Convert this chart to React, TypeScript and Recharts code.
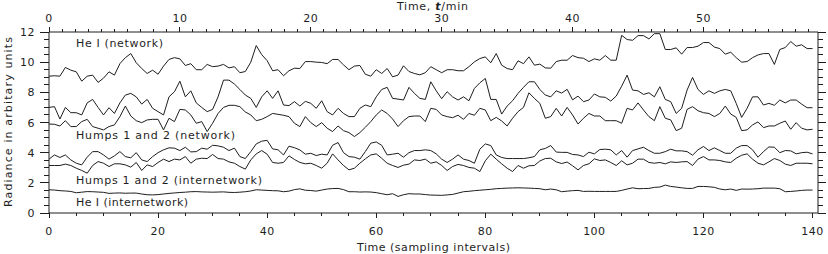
import React from 'react';
import { LineChart, Line, XAxis, YAxis } from 'recharts';

// sample index 0..140 (one sample = 25 s, so 2.4 samples per minute)
const samples = Array.from({ length: 141 }, (_, i) => i);
const SAMPLES_PER_MIN = 2.4;

const heNetwork = [
  9.07, 9.1, 9.07, 9.65, 9.47, 9.36, 8.74, 9.07, 9.14, 8.66, 8.94, 9.36, 9.14, 9.9, 10.3, 10.57, 9.96, 9.58, 9.25, 9.47,
  9.2, 9.74, 10.18, 10.3, 10.22, 9.78, 9.9, 9.5, 9.5, 9.85, 9.7, 9.74, 9.85, 9.62, 9.7, 9.3, 9.38, 10.0, 11.1, 10.5,
  10.1, 9.43, 9.5, 9.1, 9.43, 9.6, 9.58, 10.04, 10.04, 10.0, 9.98, 9.9, 10.18, 10.18, 9.82, 9.5, 9.74, 9.78, 9.2, 9.07,
  9.5, 9.25, 9.58, 9.03, 9.14, 9.76, 9.38, 9.25, 9.16, 9.3, 9.7, 9.5, 9.3, 9.5, 9.5, 9.43, 9.43, 9.7, 10.02, 10.24,
  10.35, 9.96, 10.57, 9.8, 9.58, 9.5, 10.09, 9.9, 10.35, 9.8, 9.87, 9.62, 9.6, 10.04, 10.13, 10.13, 10.44, 10.3, 10.26, 10.04,
  10.22, 10.13, 10.44, 10.13, 10.13, 11.78, 11.5, 11.45, 11.76, 11.76, 11.54, 11.89, 11.89, 10.84, 10.84, 10.95, 10.53, 10.97, 10.97, 11.06,
  11.3, 11.3, 11.0, 10.9, 10.53, 10.66, 10.3, 10.0, 10.04, 10.3, 10.48, 10.57, 10.57, 9.85, 10.84, 10.97, 11.37, 11.06, 11.15, 10.9,
  10.9,
];

const humpsNetworkA = [
  7.0, 7.05, 6.23, 7.0, 6.65, 6.65, 6.5, 7.3, 7.53, 7.0, 6.5, 6.98, 6.6, 7.3, 7.82, 7.93, 7.7, 7.22, 7.53, 6.94,
  6.72, 6.5, 7.7, 8.04, 8.74, 7.7, 8.1, 7.3, 7.0, 6.72, 6.87, 7.7, 8.81, 8.81, 8.55, 8.19, 7.82, 7.6, 7.0, 7.7,
  8.1, 7.6, 8.1, 7.16, 7.12, 7.38, 7.09, 7.4, 7.27, 6.94, 7.44, 6.72, 6.5, 6.94, 6.6, 6.39, 6.39, 6.94, 7.16, 7.05,
  7.7, 8.19, 8.33, 7.6, 7.55, 7.49, 8.33, 7.93, 7.6, 7.53, 8.7, 8.1, 7.58, 8.04, 7.7, 7.49, 7.7, 7.44, 8.26, 8.63,
  8.92, 7.53, 7.53, 6.56, 7.09, 7.44, 7.93, 8.33, 8.7, 8.7, 8.19, 7.82, 7.7, 8.1, 7.95, 8.2, 7.5, 7.75, 7.38, 7.49,
  7.89, 7.7, 7.67, 7.42, 7.75, 8.41, 9.14, 8.15, 8.1, 7.86, 7.97, 7.7, 8.37, 7.53, 7.38, 6.6, 6.94, 8.15, 8.99, 8.19,
  7.86, 8.1, 7.93, 8.1, 8.19, 8.1, 7.27, 6.34, 6.94, 7.7, 7.7, 7.16, 7.27, 7.14, 7.49, 7.3, 7.49, 7.49, 7.22, 6.98,
  6.98,
];

const humpsNetworkB = [
  5.9, 5.88, 5.77, 6.12, 5.73, 5.73, 6.06, 6.21, 5.73, 5.62, 5.51, 5.73, 5.84, 6.39, 7.09, 6.43, 6.12, 5.99, 6.17, 6.21,
  6.21, 5.51, 6.28, 6.06, 6.87, 6.83, 6.5, 5.95, 6.06, 5.4, 5.95, 6.6, 7.0, 7.14, 7.14, 7.05, 6.7, 6.5, 6.12, 6.21,
  6.39, 6.6, 6.54, 6.48, 6.39, 5.95, 5.73, 6.39, 5.99, 5.73, 5.99, 5.62, 5.4, 5.77, 5.46, 5.33, 5.07, 5.33, 5.68, 6.06,
  6.5, 6.83, 6.6, 6.23, 5.73, 6.12, 6.39, 6.43, 6.43, 6.06, 6.94, 6.87, 6.5, 6.39, 6.32, 6.48, 6.21, 6.6, 6.48, 6.94,
  6.83, 6.12, 6.34, 6.1, 5.77, 6.28, 6.72, 7.0, 7.97, 7.6, 7.27, 6.28, 6.39, 6.94, 6.43, 7.0, 6.5, 5.9, 6.28, 6.6,
  6.43, 6.43, 6.12, 6.12, 6.12, 5.95, 6.94, 6.83, 7.3, 6.83, 6.39, 6.12, 7.05, 6.28, 6.17, 5.46, 5.62, 6.87, 7.05, 6.78,
  6.65, 6.6, 6.39, 6.6, 7.09, 6.56, 6.34, 5.46, 5.51, 5.84, 6.04, 5.66, 5.77, 5.77, 5.95, 6.1, 5.55, 5.99, 5.62, 5.51,
  5.55,
];

const humpsInterA = [
  3.57, 3.85, 3.68, 3.85, 3.52, 3.3, 3.19, 3.7, 4.07, 4.07, 3.85, 3.57, 3.79, 4.07, 3.74, 3.66, 4.0, 3.52, 3.41, 3.74,
  4.0, 4.19, 4.32, 4.3, 4.14, 4.36, 4.05, 4.07, 4.3, 4.23, 4.49, 4.45, 4.36, 4.14, 4.3, 3.74, 3.61, 4.07, 4.58, 4.76,
  4.82, 4.25, 4.19, 3.85, 4.43, 4.33, 4.18, 3.9, 3.96, 3.81, 3.9, 3.85, 4.49, 4.67, 4.0, 3.74, 3.7, 3.57, 4.07, 4.63,
  4.71, 4.49, 3.85, 3.9, 3.96, 3.7, 4.0, 4.14, 4.14, 4.19, 4.14, 3.92, 3.57, 3.35, 3.57, 3.85, 3.57, 3.48, 3.3, 4.23,
  4.58, 4.47, 3.85, 3.68, 3.61, 3.61, 3.61, 3.61, 3.66, 3.74, 4.19, 4.28, 4.47, 4.04, 4.02, 4.02, 3.88, 3.85, 3.74, 4.03,
  3.92, 4.21, 4.23, 4.19, 3.85, 4.14, 3.7, 4.14, 4.25, 4.36, 4.14, 3.96, 3.96, 4.07, 4.23, 4.12, 4.12, 4.07, 3.83, 4.19,
  4.41, 4.14, 4.32, 4.14, 3.96, 3.96, 4.3, 4.47, 4.47, 4.19, 3.7, 4.07, 4.38, 4.36, 4.0, 4.14, 4.12, 3.92, 4.0, 4.03,
  3.92,
];

const humpsInterB = [
  3.15, 3.15, 3.15, 3.24, 3.15, 2.97, 2.82, 2.64, 3.15, 3.41, 3.3, 3.08, 3.26, 3.26, 3.19, 3.04, 3.35, 2.82, 3.19, 3.08,
  3.35, 3.57, 3.41, 3.57, 3.52, 3.74, 3.3, 3.57, 3.63, 3.61, 3.88, 3.61, 3.57, 3.39, 3.3, 3.08, 2.91, 3.52, 3.92, 4.14,
  3.9, 3.35, 3.3, 3.35, 3.79, 3.55, 3.35, 3.26, 3.3, 3.15, 2.97, 3.3, 3.92, 3.52, 3.15, 2.86, 2.97, 3.3, 3.59, 3.85,
  3.92, 3.63, 3.3, 3.15, 3.02, 3.17, 3.24, 3.52, 3.48, 3.57, 3.3, 3.39, 3.15, 2.82, 3.08, 3.22, 3.15, 3.02, 2.97, 2.75,
  3.46, 3.9, 3.57, 3.26, 2.97, 2.75, 3.15, 2.97, 3.13, 3.15, 3.45, 3.61, 3.63, 3.39, 3.28, 3.38, 3.13, 2.86, 3.15, 3.26,
  3.59, 3.48, 3.52, 3.35, 3.15, 3.46, 3.19, 3.3, 3.57, 3.57, 3.35, 3.3, 3.35, 3.26, 3.39, 3.35, 3.39, 3.41, 3.15, 3.57,
  3.74, 3.52, 3.52, 3.48, 3.39, 3.35, 3.63, 3.83, 3.92, 3.57, 3.3, 3.19, 3.39, 3.61, 3.48, 3.24, 3.15, 3.3, 3.3, 3.3,
  3.26,
];

const heInternetwork = [
  1.54, 1.52, 1.48, 1.46, 1.43, 1.34, 1.38, 1.42, 1.41, 1.39, 1.37, 1.3, 1.32, 1.33, 1.31, 1.32, 1.32, 1.26, 1.21, 1.2,
  1.22, 1.26, 1.3, 1.33, 1.36, 1.38, 1.41, 1.42, 1.4, 1.39, 1.38, 1.39, 1.4, 1.37, 1.36, 1.38, 1.41, 1.46, 1.54, 1.52,
  1.5, 1.48, 1.47, 1.41, 1.45, 1.55, 1.6, 1.51, 1.49, 1.45, 1.52, 1.59, 1.62, 1.63, 1.55, 1.41, 1.41, 1.39, 1.4, 1.39,
  1.35, 1.28, 1.21, 1.28, 1.1, 1.21, 1.28, 1.26, 1.26, 1.22, 1.19, 1.18, 1.17, 1.2, 1.23, 1.32, 1.41, 1.44, 1.48, 1.51,
  1.54, 1.57, 1.61, 1.63, 1.65, 1.66, 1.67, 1.66, 1.65, 1.63, 1.61, 1.54, 1.59, 1.54, 1.41, 1.45, 1.48, 1.5, 1.43, 1.44,
  1.43, 1.43, 1.43, 1.43, 1.43, 1.5, 1.59, 1.67, 1.61, 1.62, 1.63, 1.7, 1.72, 1.85, 1.76, 1.72, 1.67, 1.63, 1.63, 1.76,
  1.76, 1.74, 1.7, 1.59, 1.54, 1.59, 1.5, 1.59, 1.58, 1.59, 1.61, 1.65, 1.65, 1.65, 1.61, 1.41, 1.43, 1.46, 1.5, 1.52,
  1.52,
];

// axis ticks
const bottomTicks = Array.from({ length: 29 }, (_, i) => i * 5);
const topMinutes = Array.from({ length: 59 }, (_, i) => i);
const topTicks = topMinutes.map((m) => m * SAMPLES_PER_MIN);
const yTicks = Array.from({ length: 25 }, (_, i) => i * 0.5);

const data = samples.map((s, i) => ({
  s,
  heNet: heNetwork[i],
  humpNetA: humpsNetworkA[i],
  humpNetB: humpsNetworkB[i],
  humpIntA: humpsInterA[i],
  humpIntB: humpsInterB[i],
  heInt: heInternetwork[i],
}));

const INK = '#1e1e1e';
const FONT = '"DejaVu Sans", sans-serif';
const FS = 11;

// the axis draws the short (minor) tick itself; majors get an extension here
const BottomTick = (props: any) => {
  const { x, y, payload } = props;
  if (payload.value % 20 !== 0) return <g />;
  return (
    <g>
      <path d={`M${x},${y}v2`} stroke={INK} shapeRendering="crispEdges" />
      <text x={x} y={y + 19} textAnchor="middle" fill={INK} fontSize={FS} fontFamily={FONT} letterSpacing={0.5}>
        {payload.value}
      </text>
    </g>
  );
};

const TopTick = (props: any) => {
  const { x, y, payload } = props;
  const minute = Math.round(payload.value / SAMPLES_PER_MIN);
  if (minute % 10 !== 0) return <g />;
  return (
    <g>
      <path d={`M${x},${y}v-2`} stroke={INK} shapeRendering="crispEdges" />
      <text x={x} y={y - 7} textAnchor="middle" fill={INK} fontSize={FS} fontFamily={FONT} letterSpacing={0.5}>
        {minute}
      </text>
    </g>
  );
};

const LeftTick = (props: any) => {
  const { x, y, payload } = props;
  if (payload.value % 2 !== 0) return <g />;
  return (
    <g>
      <path d={`M${x},${y}h-4`} stroke={INK} shapeRendering="crispEdges" />
      <text x={x - 9} y={y + 4} textAnchor="end" fill={INK} fontSize={FS} fontFamily={FONT} letterSpacing={0.5}>
        {payload.value}
      </text>
    </g>
  );
};

const RightTick = (props: any) => {
  const { x, y, payload } = props;
  if (payload.value % 2 !== 0) return <g />;
  return <path d={`M${x},${y}h3`} stroke={INK} shapeRendering="crispEdges" />;
};

const seriesKeys = ['heNet', 'humpNetA', 'humpNetB', 'humpIntA', 'humpIntB', 'heInt'];

const labelStyle = { fill: INK, fontSize: FS, fontFamily: FONT, lengthAdjust: 'spacing' as const };
const tickLine = { stroke: INK, shapeRendering: 'crispEdges' };

export default function App() {
  return (
    <div style={{ position: 'absolute', left: 0, top: 0, width: 828, height: 254, background: '#fff' }}>
      <LineChart width={828} height={254} data={data} margin={{ top: 0, right: 0, bottom: 0, left: 0 }}>
        <XAxis
          xAxisId="b"
          dataKey="s"
          type="number"
          domain={[0, 141]}
          ticks={bottomTicks}
          interval={0}
          orientation="bottom"
          height={41}
          tickSize={3}
          tickMargin={0}
          tickLine={tickLine}
          tick={<BottomTick />}
          axisLine={{ stroke: INK }}
          allowDataOverflow
        />
        <XAxis
          xAxisId="t"
          dataKey="s"
          type="number"
          domain={[0, 141]}
          ticks={topTicks}
          interval={0}
          orientation="top"
          height={32}
          tickSize={3}
          tickMargin={0}
          tickLine={tickLine}
          tick={<TopTick />}
          axisLine={{ stroke: INK }}
          allowDataOverflow
        />
        <YAxis
          yAxisId="l"
          type="number"
          domain={[0, 12]}
          ticks={yTicks}
          interval={0}
          width={49}
          tickSize={5}
          tickMargin={0}
          tickLine={tickLine}
          tick={<LeftTick />}
          axisLine={{ stroke: INK }}
          allowDataOverflow
        />
        <YAxis
          yAxisId="r"
          orientation="right"
          type="number"
          domain={[0, 12]}
          ticks={yTicks}
          interval={0}
          width={10}
          tickSize={5}
          tickMargin={0}
          tickLine={tickLine}
          tick={<RightTick />}
          axisLine={{ stroke: INK }}
          allowDataOverflow
        />
        {seriesKeys.map((k) => (
          <Line
            key={k}
            xAxisId="b"
            yAxisId="l"
            dataKey={k}
            type="linear"
            stroke={INK}
            strokeWidth={1}
            dot={false}
            activeDot={false}
            isAnimationActive={false}
          />
        ))}
      </LineChart>
      <svg width={828} height={254} style={{ position: 'absolute', left: 0, top: 0, pointerEvents: 'none' }}>
        <text x={397} y={10} textLength={71} {...labelStyle}>
          Time, <tspan fontStyle="italic" fontWeight="bold">t</tspan>/min
        </text>
        <text x={357} y={251} textLength={153} {...labelStyle}>
          Time (sampling intervals)
        </text>
        <text x={12} y={207} textLength={170} transform="rotate(-90, 12, 207)" {...labelStyle}>
          Radiance in arbitary units
        </text>
        <text x={76} y={47} textLength={87} {...labelStyle}>He I (network)</text>
        <text x={76} y={139} textLength={159} {...labelStyle}>Humps 1 and 2 (network)</text>
        <text x={76} y={184} textLength={186} {...labelStyle}>Humps 1 and 2 (internetwork)</text>
        <text x={76} y={206} textLength={112} {...labelStyle}>He I (internetwork)</text>
      </svg>
    </div>
  );
}
